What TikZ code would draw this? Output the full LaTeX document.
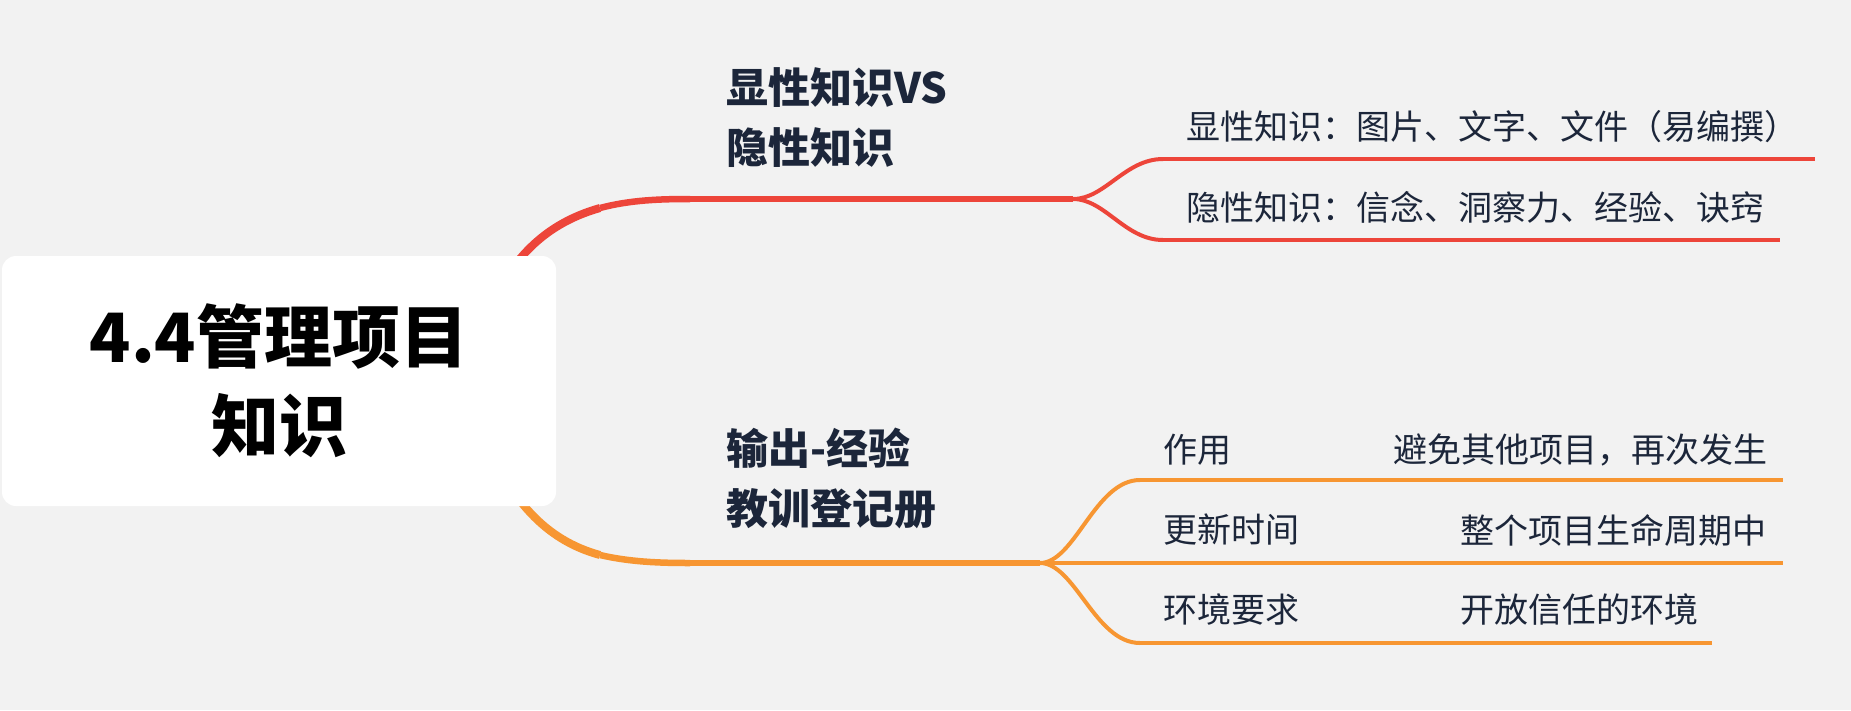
\documentclass[tikz,border=0pt]{standalone}
\usepackage{fontspec}
\usepackage{tikz}
\newfontfamily\cjk{Noto Sans CJK SC}
\definecolor{bg}{RGB}{242,242,242}
\definecolor{redbr}{RGB}{237,69,58}
\definecolor{orbr}{RGB}{247,150,50}
\definecolor{ink}{RGB}{28,38,58}
\tikzset{
  rootbox/.style={fill=white, rounded corners=14pt, minimum width=554pt, minimum height=250pt,
    align=center, inner sep=0pt, font=\cjk\bfseries\fontsize{68}{89}\selectfont, text=black},
  topic/.style={anchor=west, align=left, inner sep=0pt, text=ink,
    font=\cjk\bfseries\fontsize{42}{60}\selectfont},
  leaf/.style={anchor=west, inner sep=0pt, text=ink, font=\cjk\fontsize{34}{40}\selectfont},
  redline/.style={draw=redbr, line width=4pt},
  orline/.style={draw=orbr, line width=4pt}
}

\begin{document}
\begin{tikzpicture}[x=1pt,y=1pt]
\fill[bg] (0,0) rectangle (1851,-710);
\useasboundingbox (0,0) rectangle (1851,-710);

% branch points
\coordinate (r0) at (480,-330);
\coordinate (r1) at (690,-199);
\coordinate (r2) at (1073,-199);
\coordinate (o0) at (480,-430);
\coordinate (o1) at (690,-563);
\coordinate (o2) at (1040,-563);

% underline ends
\coordinate (e1a) at (1163,-159);
\coordinate (e1b) at (1815,-159);
\coordinate (e2a) at (1163,-240);
\coordinate (e2b) at (1780,-240);
\coordinate (u1a) at (1140,-480);
\coordinate (u1b) at (1373,-480);
\coordinate (u1c) at (1783,-480);
\coordinate (u2a) at (1140,-563);
\coordinate (u2b) at (1440,-563);
\coordinate (u2c) at (1783,-563);
\coordinate (u3a) at (1140,-643);
\coordinate (u3b) at (1440,-643);
\coordinate (u3c) at (1712,-643);

% red branch
\draw[redline, line width=8pt] (r0) .. controls (505,-265) and (540,-225) .. (600,-208);
\draw[redline, line width=6.5pt] (600,-208) .. controls (630,-200) and (660,-199) .. (r1);
\draw[redline, line width=5.5pt] (r1) -- (r2);
\draw[redline] (r2) .. controls (1105,-199) and (1125,-159) .. (e1a);
\draw[redline] (r2) .. controls (1105,-199) and (1125,-240) .. (e2a);
\draw[redline] (e1a) -- (e1b);
\draw[redline] (e2a) -- (e2b);

% orange branch
\draw[orline, line width=8pt] (o0) .. controls (510,-500) and (545,-540) .. (600,-555);
\draw[orline, line width=6.5pt] (600,-555) .. controls (630,-562) and (660,-563) .. (o1);
\draw[orline, line width=5.5pt] (o1) -- (o2);
\draw[orline] (o2) .. controls (1075,-563) and (1095,-480) .. (u1a);
\draw[orline] (o2) -- (u2a);
\draw[orline] (o2) .. controls (1075,-563) and (1095,-643) .. (u3a);
\draw[orline] (u1a) -- (u1b);
\draw[orline] (u1b) -- (u1c);
\draw[orline] (u2a) -- (u2b);
\draw[orline] (u2b) -- (u2c);
\draw[orline] (u3a) -- (u3b);
\draw[orline] (u3b) -- (u3c);

\node[rootbox] (root) at (279,-381) {4.4管理项目\\知识};

\node[topic] (tacit) at (726,-118) {显性知识VS\\隐性知识};
\node[leaf] (exp) at (1186,-127) {显性知识：图片、文字、文件（易编撰）};
\node[leaf] (imp) at (1186,-207) {隐性知识：信念、洞察力、经验、诀窍};

\node[topic] (lesson) at (726,-478) {输出-经验\\教训登记册};
\node[leaf] (use) at (1163,-450) {作用};
\node[leaf] (usev) at (1393,-450) {避免其他项目，再次发生};
\node[leaf] (upd) at (1163,-530) {更新时间};
\node[leaf] (updv) at (1460,-530) {整个项目生命周期中};
\node[leaf] (env) at (1163,-610) {环境要求};
\node[leaf] (envv) at (1460,-610) {开放信任的环境};
\end{tikzpicture}
\end{document}
